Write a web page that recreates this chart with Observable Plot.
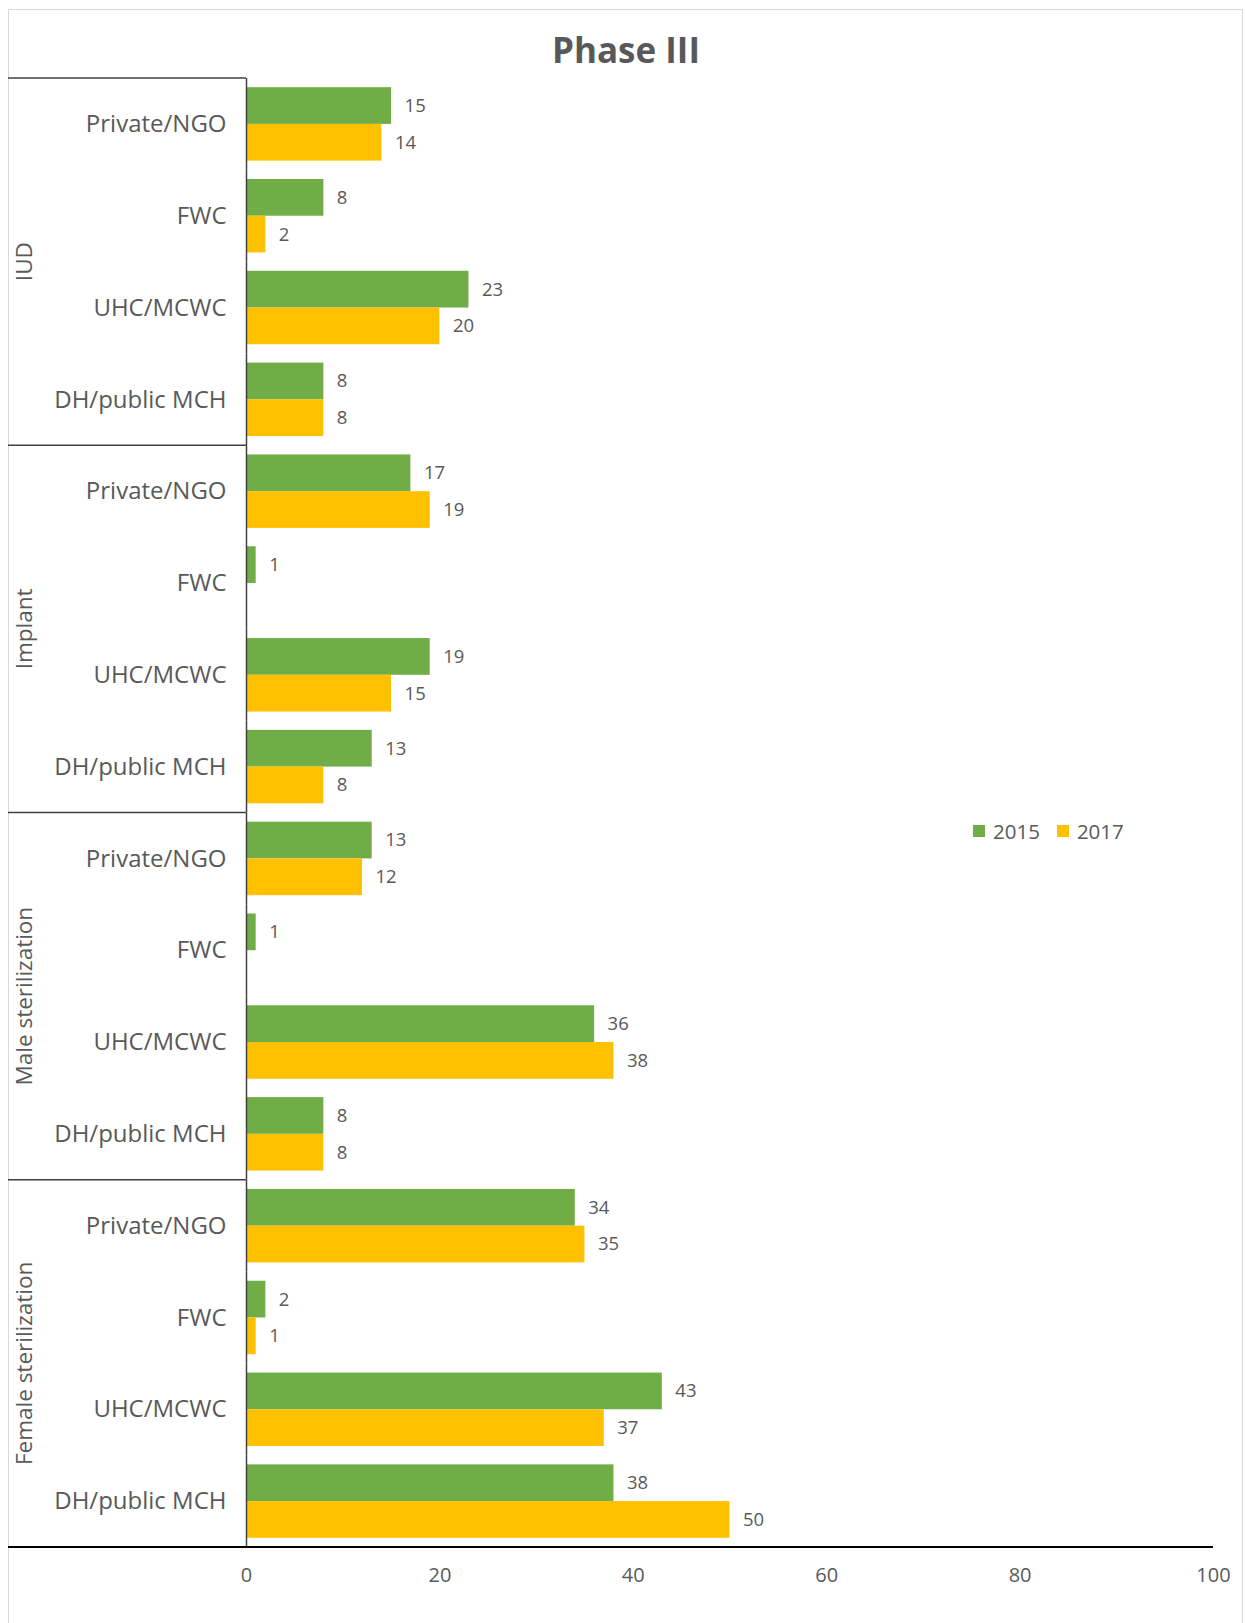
<!DOCTYPE html>
<html>
<head>
<meta charset="utf-8">
<script src="https://cdn.jsdelivr.net/npm/d3@7"></script>
<script src="https://cdn.jsdelivr.net/npm/@observablehq/plot@0.6"></script>
<style>
  html, body { margin: 0; padding: 0; background: #fff; }
  #wrap { position: relative; width: 1245px; height: 1623px; overflow: hidden; font-family: "Open Sans", sans-serif; color: #595959; }
  #frame { position: absolute; left: 8px; top: 9px; width: 1235px; height: 1620px; border: 1px solid #d9d9d9; box-sizing: border-box; pointer-events: none; }
  #title { position: absolute; left: 8px; width: 1236px; top: 28px; text-align: center; font-size: 35px; font-weight: 700; color: #595959; line-height: 44px; }
  #legend { position: absolute; left: 973px; top: 817px; display: flex; align-items: center; font-size: 20.5px; color: #595959; line-height: 28px; }
  #legend .item { display: flex; align-items: center; margin-right: 17px; }
  #legend .sw { width: 12px; height: 12px; margin-right: 8px; }
  #chart { position: absolute; left: 0; top: 0; }
  #chart svg [aria-label^="fy-axis"] text { font-size: 24px; fill: #595959; }
  #chart svg [aria-label^="x-axis"] text { font-size: 20px; fill: #595959; }
</style>
</head>
<body>
<div id="wrap">
  <div id="frame"></div>
  <div id="chart"></div>
  <div id="title"></div>
  <div id="legend"></div>
</div>
<script>
const titleText = "Phase III";
const groups = ["IUD", "Implant", "Male sterilization", "Female sterilization"];
const facilities = ["Private/NGO", "FWC", "UHC/MCWC", "DH/public MCH"];
const years = ["2015", "2017"];
const values2015 = [15, 8, 23, 8, 17, 1, 19, 13, 13, 1, 36, 8, 34, 2, 43, 38];
const values2017 = [14, 2, 20, 8, 19, null, 15, 8, 12, null, 38, 8, 35, 1, 37, 50];
const xTicks = [0, 20, 40, 60, 80, 100];
const colors = ["#70AD47", "#FFC000"];

const keys = [];
const rows = [];
groups.forEach((g, gi) => {
  facilities.forEach((f, fi) => {
    const key = g + "|" + f;
    keys.push(key);
    const i = gi * facilities.length + fi;
    [values2015[i], values2017[i]].forEach((v, yi) => {
      if (v != null) rows.push({key, group: g, facility: f, year: years[yi], value: v});
    });
  });
});

const plot = Plot.plot({
  width: 1245,
  height: 1623,
  marginLeft: 246,
  marginRight: 32,
  marginTop: 78,
  marginBottom: 76,
  style: {fontFamily: "Open Sans, sans-serif", fontSize: "20px", color: "#595959", background: "transparent", overflow: "visible"},
  x: {domain: [0, 100], ticks: xTicks, tickSize: 0, tickPadding: 20, label: null},
  y: {domain: years, paddingInner: 0, paddingOuter: 0.25, round: false, axis: null},
  fy: {domain: keys, padding: 0, round: false, tickSize: 0, tickPadding: 20, label: null, tickFormat: k => k.split("|")[1]},
  color: {domain: years, range: colors},
  marks: [
    Plot.barX(rows, {fy: "key", y: "year", x: "value", fill: "year"}),
    Plot.text(rows, {fy: "key", y: "year", x: "value", text: d => String(d.value), dx: 13, textAnchor: "start", fill: "#595959", fontSize: 18.5}),
    Plot.ruleX([0], {stroke: "#404040", strokeWidth: 1.5})
  ]
});
document.getElementById("chart").appendChild(plot);

// decorations positioned from the plot's own scales
const fy = plot.scale("fy");
const xs = plot.scale("x");
const svg = d3.select(plot);
const bw = fy.bandwidth;
const leftEdge = 8;
const deco = svg.append("g");
groups.forEach((g, gi) => {
  const first = keys[gi * facilities.length];
  const last = keys[gi * facilities.length + facilities.length - 1];
  const top = fy.apply(first);
  const bottom = fy.apply(last) + bw;
  deco.append("line")
    .attr("x1", leftEdge).attr("x2", xs.apply(0))
    .attr("y1", top).attr("y2", top)
    .attr("stroke", "#404040").attr("stroke-width", 1.5);
  deco.append("text")
    .attr("transform", `translate(32,${(top + bottom) / 2}) rotate(-90)`)
    .attr("text-anchor", "middle")
    .attr("fill", "#595959")
    .attr("font-size", 22.5)
    .text(g);
});
const yBottom = fy.apply(keys[keys.length - 1]) + bw;
deco.append("line")
  .attr("x1", leftEdge).attr("x2", xs.apply(100))
  .attr("y1", yBottom).attr("y2", yBottom)
  .attr("stroke", "#000").attr("stroke-width", 2);

document.getElementById("title").textContent = titleText;
const legend = d3.select("#legend");
years.forEach((yr, i) => {
  const it = legend.append("div").attr("class", "item");
  it.append("div").attr("class", "sw").style("background", colors[i]);
  it.append("span").text(yr);
});
</script>
</body>
</html>
